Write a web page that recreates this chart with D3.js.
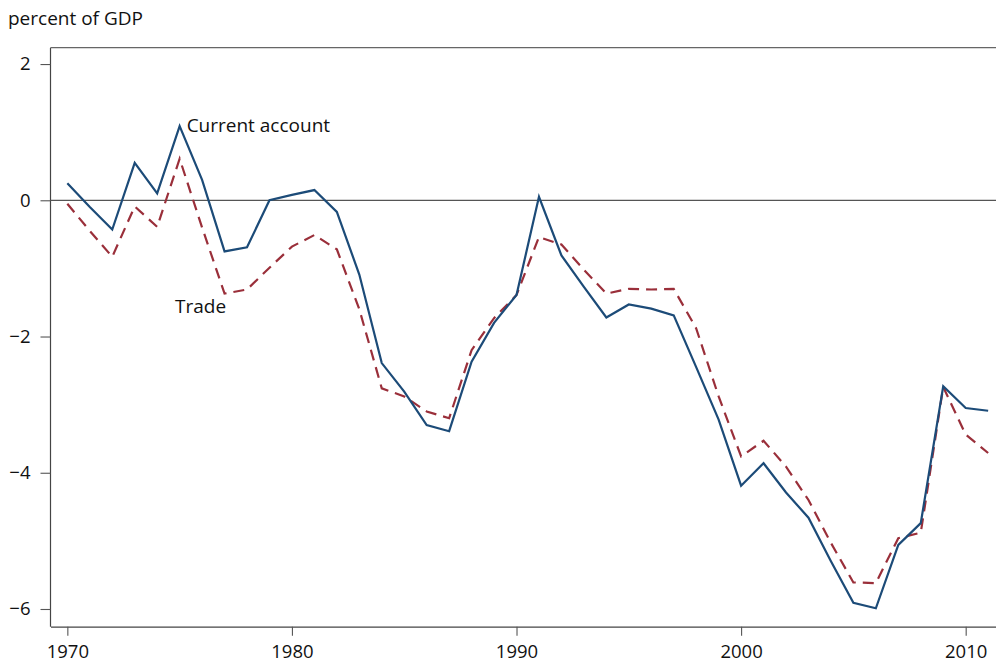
<!DOCTYPE html>
<html>
<head>
<meta charset="utf-8">
<script src="https://cdn.jsdelivr.net/npm/d3@7"></script>
<style>
  body { margin: 0; background: #fff; }
  svg text { font-family: "Open Sans", "Noto Sans", sans-serif; fill: #111; }
</style>
</head>
<body>
<svg id="chart" width="996" height="669"></svg>
<script>
const years = d3.range(1970, 2012);
const currentAccount = [
  0.25, -0.1, -0.43, 0.55, 0.1, 1.09, 0.3, -0.75, -0.69, 0.0,
  0.08, 0.15, -0.17, -1.09, -2.39, -2.81, -3.30, -3.39, -2.37, -1.80,
  -1.39, 0.05, -0.81, -1.27, -1.72, -1.53, -1.59, -1.69, -2.45, -3.22,
  -4.19, -3.86, -4.29, -4.66, -5.3, -5.91, -5.99, -5.06, -4.74, -2.73,
  -3.05, -3.09
];
const trade = [
  -0.05, -0.45, -0.83, -0.09, -0.39, 0.61, -0.4, -1.37, -1.31, -0.99,
  -0.68, -0.51, -0.72, -1.6, -2.76, -2.88, -3.10, -3.20, -2.20, -1.73,
  -1.39, -0.54, -0.65, -1.02, -1.37, -1.30, -1.31, -1.30, -1.88, -2.88,
  -3.76, -3.53, -3.91, -4.40, -5.03, -5.61, -5.62, -4.96, -4.88, -2.74,
  -3.44, -3.71
];
const yTicks = [2, 0, -2, -4, -6];
const xTicks = [1970, 1980, 1990, 2000, 2010];

const svg = d3.select("#chart");
const plotLeft = 50.5, plotRight = 996, plotTop = 47.7, plotBottom = 626.7;

const x = d3.scaleLinear().domain([1969.25, 2011.35]).range([plotLeft, plotRight]);
const y = d3.scaleLinear().domain([-6.26, 2.24]).range([plotBottom, plotTop]);

// frame: left and top lines
svg.append("line")
  .attr("x1", plotLeft).attr("x2", plotLeft).attr("y1", plotTop).attr("y2", plotBottom)
  .attr("stroke", "#444").attr("stroke-width", 1.2);
svg.append("line")
  .attr("x1", plotLeft).attr("x2", plotRight).attr("y1", plotTop).attr("y2", plotTop)
  .attr("stroke", "#666").attr("stroke-width", 1.2);

// zero line
svg.append("line")
  .attr("x1", plotLeft).attr("x2", plotRight).attr("y1", y(0)).attr("y2", y(0))
  .attr("stroke", "#555").attr("stroke-width", 1.2);

// axes
const xAxis = svg.append("g")
  .attr("transform", `translate(0,${plotBottom})`)
  .call(d3.axisBottom(x).tickValues(xTicks).tickFormat(d3.format("d")).tickSize(9).tickPadding(9).tickSizeOuter(0));
const yAxis = svg.append("g")
  .attr("transform", `translate(${plotLeft},0)`)
  .call(d3.axisLeft(y).tickValues(yTicks).tickFormat(d => d < 0 ? "\u2212" + Math.abs(d) : d).tickSize(10).tickPadding(10).tickSizeOuter(0));

[xAxis, yAxis].forEach(g => {
  g.select(".domain").attr("stroke", "#444").attr("stroke-width", 1.2);
  g.selectAll(".tick line").attr("stroke", "#555").attr("stroke-width", 1.1);
  g.selectAll(".tick text").attr("font-size", 18.5).attr("fill", "#111")
    .attr("font-family", "'Open Sans', 'Noto Sans', sans-serif");
});
yAxis.select(".domain").remove();

// lines
const line = d3.line().x((d, i) => x(years[i])).y(d => y(d));

svg.append("path")
  .datum(trade)
  .attr("d", line)
  .attr("fill", "none")
  .attr("stroke", "#9a2f3a")
  .attr("stroke-width", 2.2)
  .attr("stroke-dasharray", "11,7");

svg.append("path")
  .datum(currentAccount)
  .attr("d", line)
  .attr("fill", "none")
  .attr("stroke", "#1c4b78")
  .attr("stroke-width", 2.2);

// labels
svg.append("text").attr("x", 8).attr("y", 25).attr("font-size", 19).text("percent of GDP");
svg.append("text").attr("x", x(1975) + 7).attr("y", y(1.09) + 6).attr("font-size", 19).text("Current account");
svg.append("text").attr("x", 175).attr("y", 313).attr("font-size", 19).text("Trade");
</script>
</body>
</html>
